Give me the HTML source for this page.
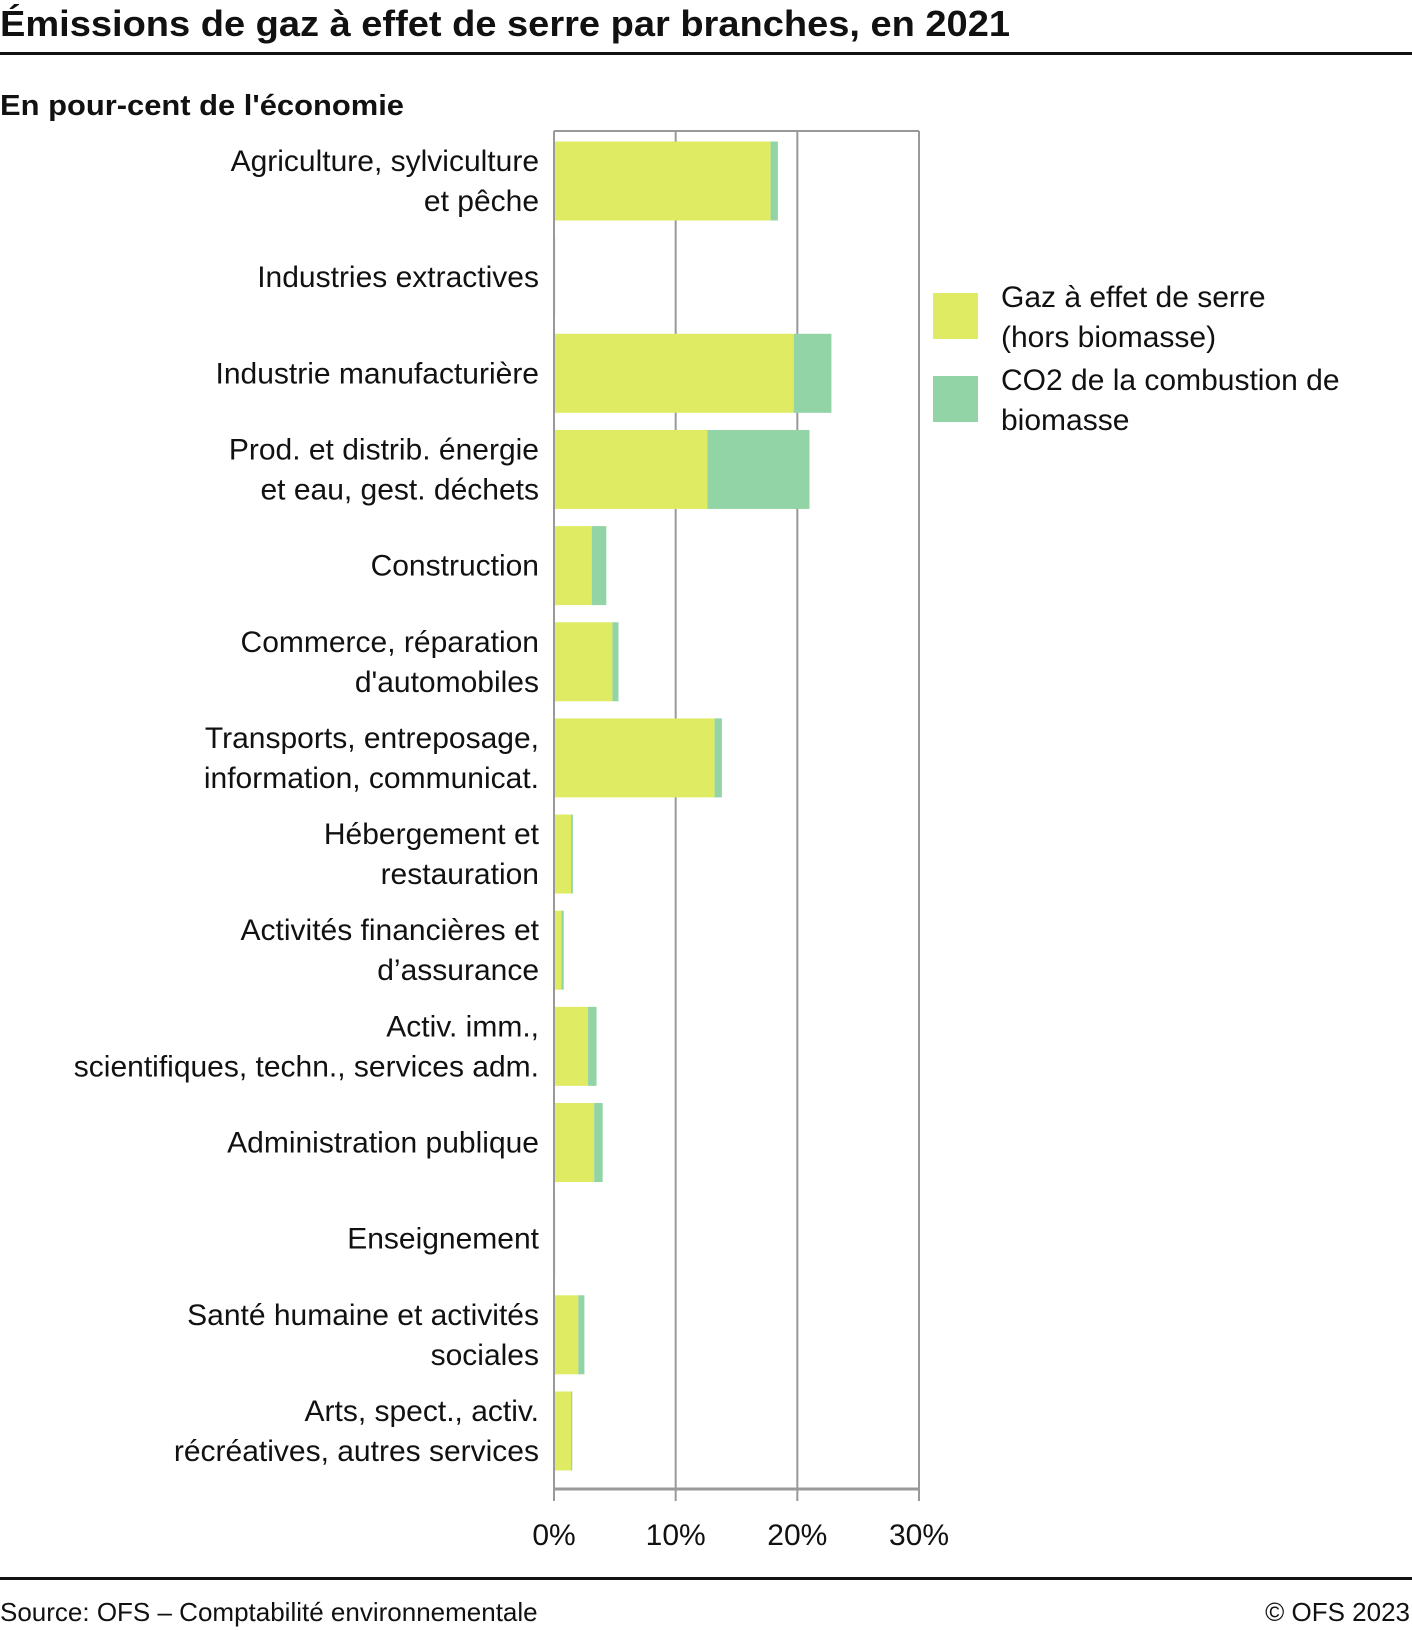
<!DOCTYPE html>
<html><head><meta charset="utf-8"><style>
html,body{margin:0;padding:0;background:#fff}
svg{display:block;font-family:"Liberation Sans",sans-serif}
</style></head><body>
<svg id="chart" width="1412" height="1630" viewBox="0 0 1412 1630" xmlns="http://www.w3.org/2000/svg">
<text x="0" y="36" font-size="36" font-weight="bold" fill="#111" textLength="1010" lengthAdjust="spacingAndGlyphs">Émissions de gaz à effet de serre par branches, en 2021</text>
<rect x="0" y="52" width="1412" height="3" fill="#111"/>
<text x="0" y="115" font-size="29" font-weight="bold" fill="#111" textLength="404" lengthAdjust="spacingAndGlyphs">En pour-cent de l'économie</text>
<g id="plot"></g>
<g>
<rect x="933" y="293" width="45" height="46" fill="#dfeb63"/>
<text x="1001" y="307" font-size="30" fill="#111"><tspan x="1001">Gaz à effet de serre</tspan><tspan x="1001" dy="40">(hors biomasse)</tspan></text>
<rect x="933" y="376" width="45" height="46" fill="#93d4a6"/>
<text x="1001" y="390" font-size="30" fill="#111"><tspan x="1001">CO2 de la combustion de</tspan><tspan x="1001" dy="40">biomasse</tspan></text>
</g>
<rect x="0" y="1577" width="1412" height="3" fill="#111"/>
<text x="0" y="1621" font-size="26" fill="#111">Source: OFS – Comptabilité environnementale</text>
<text x="1410" y="1621" font-size="26" fill="#111" text-anchor="end">© OFS 2023</text>
</svg>
<script>
const categories=[["Agriculture, sylviculture","et pêche"],["Industries extractives"],["Industrie manufacturière"],["Prod. et distrib. énergie","et eau, gest. déchets"],["Construction"],["Commerce, réparation","d'automobiles"],["Transports, entreposage,","information, communicat."],["Hébergement et","restauration"],["Activités financières et","d’assurance"],["Activ. imm.,","scientifiques, techn., services adm."],["Administration publique"],["Enseignement"],["Santé humaine et activités","sociales"],["Arts, spect., activ.","récréatives, autres services"]];
const ghgValues=[17.8,0.1,19.7,12.6,3.1,4.8,13.2,1.4,0.6,2.8,3.3,0.1,2.0,1.4];
const biomassValues=[0.6,0,3.1,8.4,1.2,0.5,0.6,0.15,0.2,0.7,0.7,0,0.5,0.1];
const tickValues=[0,10,20,30];
const tickLabels=["0%","10%","20%","30%"];
{
const NS="http://www.w3.org/2000/svg";
const L=554,R=919,T=131,B=1489,xMax=30;
const x=v=>L+(v/xMax)*(R-L);
const band=96.15;
const yc0=181;
const yCenter=i=>yc0+i*band;
const g=document.getElementById('plot');
function mk(tag,attrs){const e=document.createElementNS(NS,tag);for(const k in attrs)e.setAttribute(k,attrs[k]);g.appendChild(e);return e;}
tickValues.forEach((t,i)=>{
  const gl=mk('line',{x1:x(t),x2:x(t),y1:T,y2:B+12,stroke:'#999','stroke-width':2});
  
  
  const tl=mk('text',{x:x(t),y:B+56,'font-size':30,'text-anchor':'middle',fill:'#111'});
  tl.textContent=tickLabels[i];
  
  
});
const topBorder=mk('line',{x1:L,x2:R,y1:T,y2:T,stroke:'#999','stroke-width':2});


const bot=mk('line',{x1:L,x2:R,y1:B,y2:B,stroke:'#999','stroke-width':3});


const bh=79;
categories.forEach((c,i)=>{
  const yc=yCenter(i);
  const by=yc-bh/2;
  const b1=mk('rect',{x:x(0),y:by,width:x(ghgValues[i])-x(0),height:bh,fill:'#dfeb63'});
  
  
  const b2=mk('rect',{x:x(ghgValues[i]),y:by,width:x(ghgValues[i]+biomassValues[i])-x(ghgValues[i]),height:bh,fill:'#93d4a6'});
  
  
  const t=mk('text',{x:539,'font-size':30,'text-anchor':'end',fill:'#111'});
  
  
  const y0=c.length===1?yc+10:yc-10;
  c.forEach((line,j)=>{const s=document.createElementNS(NS,'tspan');s.setAttribute('x',539);s.setAttribute('y',y0+j*40);s.textContent=line;t.appendChild(s);});
});
const lft=mk('line',{x1:L,x2:L,y1:T,y2:B+12,stroke:'#999','stroke-width':2});


}
</script>
</body></html>
